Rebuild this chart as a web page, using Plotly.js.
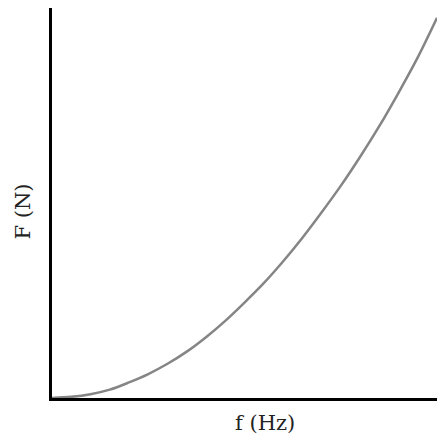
<!DOCTYPE html>
<html>
<head>
<meta charset="utf-8">
<script src="https://cdn.plot.ly/plotly-3.0.1.min.js"></script>
<style>html,body{margin:0;padding:0;background:#fff;}#chart{width:437px;height:436px;}</style>
</head>
<body>
<div id="chart"></div>
<script>
// frequency (arbitrary units)
var freq = [0, 1, 2, 3, 4, 5, 6, 7, 8, 9, 10, 11, 12, 13, 14, 15, 16, 17, 18, 19, 20];
// force (arbitrary units)
var force = [0, 0.3, 1.0, 2.2, 4.1, 6.3, 9.0, 12.2, 16.0, 20.3, 25.1, 30.2, 35.9, 42.1, 48.8, 55.8, 63.4, 71.5, 80.3, 89.6, 100];
var xLabel = 'f (Hz)';
var yLabel = 'F (N)';

var trace = {
  x: freq, y: force, type: 'scatter', mode: 'lines',
  line: {color: '#858585', width: 2.5, shape: 'spline'},
  hoverinfo: 'skip', cliponaxis: false
};
var font = {family: '"DejaVu Serif", "Liberation Serif", serif', size: 21, color: '#222'};
var layout = {
  width: 437, height: 436,
  margin: {l: 51.5, r: 0, t: 8, b: 38},
  paper_bgcolor: '#fff', plot_bgcolor: '#fff',
  showlegend: false,
  xaxis: {range: [0, 20], showgrid: false, zeroline: false, showticklabels: false, ticks: '',
          showline: true, linecolor: '#000', linewidth: 3, layer: 'below traces'},
  yaxis: {range: [0, 102.6], showgrid: false, zeroline: false, showticklabels: false, ticks: '',
          showline: true, linecolor: '#000', linewidth: 3, layer: 'below traces'},
  annotations: [
    {text: xLabel, xref: 'paper', yref: 'paper', x: 0.5525, y: -0.064, xanchor: 'center', yanchor: 'middle', showarrow: false, font: font},
    {text: yLabel, xref: 'paper', yref: 'paper', x: -0.0765, y: 0.477, xanchor: 'center', yanchor: 'middle', textangle: -90, showarrow: false, font: font}
  ]
};
Plotly.newPlot('chart', [trace], layout, {staticPlot: true, displayModeBar: false});
</script>
</body>
</html>
